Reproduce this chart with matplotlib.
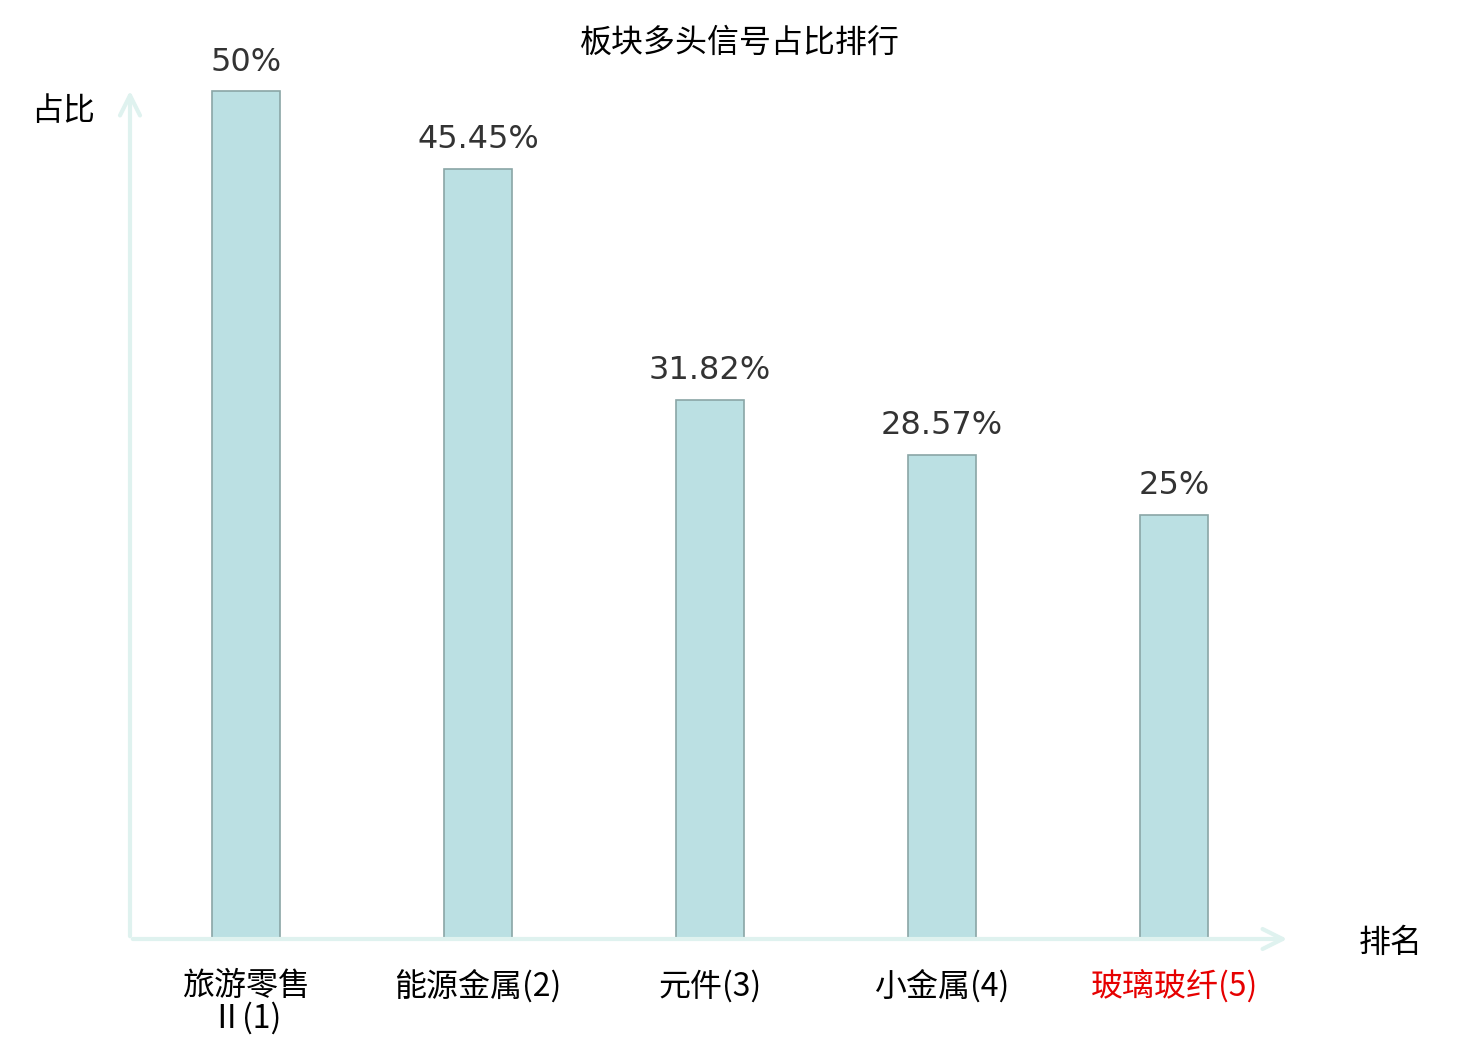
import matplotlib
matplotlib.use("Agg")
import matplotlib.pyplot as plt

plt.rcParams['font.family'] = ['Noto Sans CJK SC', 'DejaVu Sans']

TITLE = "板块多头信号占比排行"
categories = ["旅游零售\nⅡ(1)", "能源金属(2)", "元件(3)", "小金属(4)", "玻璃玻纤(5)"]
values = [50, 45.45, 31.82, 28.57, 25]
value_labels = ["50%", "45.45%", "31.82%", "28.57%", "25%"]
label_colors = ["black", "black", "black", "black", "#e60000"]

AXIS_COLOR = "#dff2ef"
BAR_FACE = "#bbe0e3"
BAR_EDGE = "#8aa6a6"

fig = plt.figure(figsize=(14.8, 10.4), dpi=100)
ax = fig.add_axes([130 / 1480, 101 / 1040, 1160 / 1480, 851 / 1040])

x = list(range(len(categories)))
ax.bar(x, values, width=0.293, color=BAR_FACE, edgecolor=BAR_EDGE, linewidth=1.2, zorder=2)

for xi, v, lab in zip(x, values, value_labels):
    ax.annotate(lab, (xi, v), xytext=(0, 10), textcoords="offset points",
                ha="center", va="bottom", fontsize=23, color="#333333",
                family="DejaVu Sans")

ax.set_xlim(-0.5, 4.5)
ax.set_ylim(0, 50.2)
for s in ax.spines.values():
    s.set_visible(False)
ax.set_yticks([])
ax.set_xticks(x)
ax.set_xticklabels(categories, fontsize=23, linespacing=1.0)
for t, c in zip(ax.get_xticklabels(), label_colors):
    t.set_color(c)
ax.tick_params(axis="x", length=0, pad=22)

# axis arrows
arrow = dict(arrowstyle="->", color=AXIS_COLOR, lw=3, mutation_scale=36)
ax.annotate("", xy=(1, 0), xytext=(0, 0), xycoords="axes fraction", arrowprops=arrow)
ax.annotate("", xy=(0, 1), xytext=(0, 0), xycoords="axes fraction", arrowprops=arrow)

fig.text(740 / 1480, 1 - 43 / 1040, TITLE, ha="center", va="center", fontsize=23)
fig.text(63 / 1480, 1 - 111 / 1040, "占比", ha="center", va="center", fontsize=23)
fig.text(1391 / 1480, 1 - 943 / 1040, "排名", ha="center", va="center", fontsize=23)

fig.savefig("out.png", dpi=100)
